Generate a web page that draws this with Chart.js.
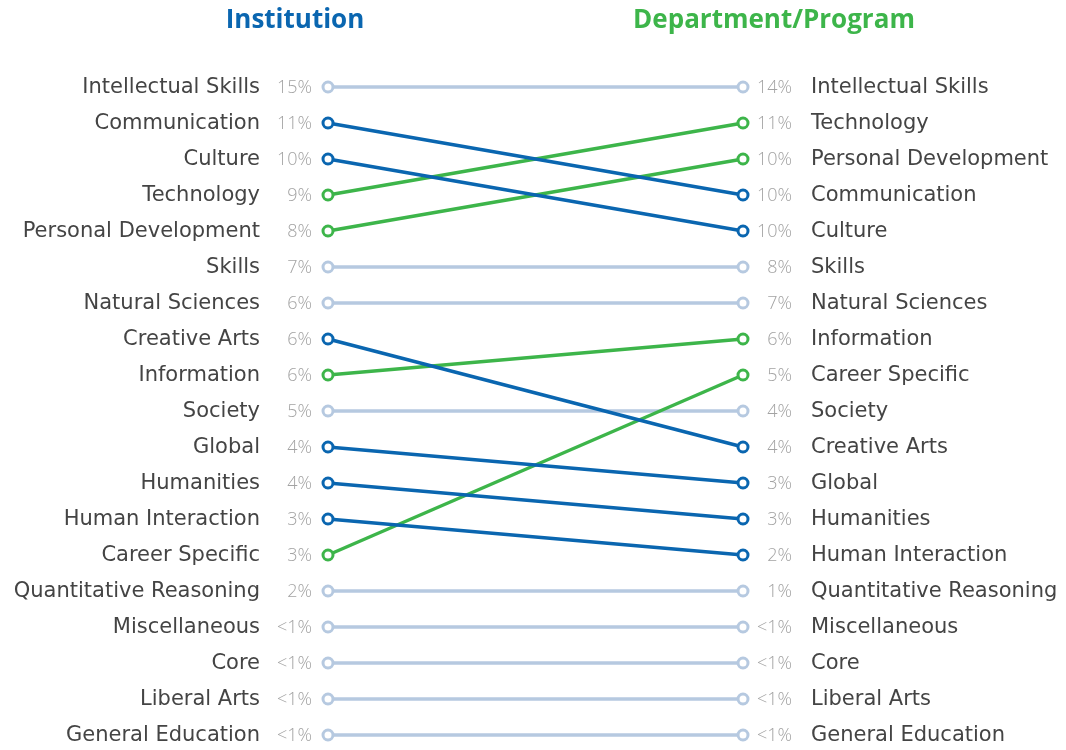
<!DOCTYPE html>
<html>
<head>
<meta charset="utf-8">
<script src="https://cdn.jsdelivr.net/npm/chart.js@4/dist/chart.umd.min.js"></script>
<style>
  html, body { margin: 0; padding: 0; background: #fff; }
  #wrap { width: 1066px; height: 750px; position: relative; }
</style>
</head>
<body>
<div id="wrap"><canvas id="slope"></canvas></div>
<script>
const leftTitle = "Institution";
const rightTitle = "Department/Program";

// ranking at the institution level (top to bottom)
const leftNames = [
  "Intellectual Skills", "Communication", "Culture", "Technology", "Personal Development",
  "Skills", "Natural Sciences", "Creative Arts", "Information", "Society", "Global",
  "Humanities", "Human Interaction", "Career Specific", "Quantitative Reasoning",
  "Miscellaneous", "Core", "Liberal Arts", "General Education"
];
const leftPct = ["15%", "11%", "10%", "9%", "8%", "7%", "6%", "6%", "6%", "5%", "4%",
  "4%", "3%", "3%", "2%", "<1%", "<1%", "<1%", "<1%"];

// ranking at the department/program level (top to bottom)
const rightNames = [
  "Intellectual Skills", "Technology", "Personal Development", "Communication", "Culture",
  "Skills", "Natural Sciences", "Information", "Career Specific", "Society", "Creative Arts",
  "Global", "Humanities", "Human Interaction", "Quantitative Reasoning",
  "Miscellaneous", "Core", "Liberal Arts", "General Education"
];
const rightPct = ["14%", "11%", "10%", "10%", "10%", "8%", "7%", "6%", "5%", "4%", "4%",
  "3%", "3%", "2%", "1%", "<1%", "<1%", "<1%", "<1%"];

const SAME = "#b6c9e0";
const UP = "#3db54a";
const DOWN = "#0a66b0";

const datasets = leftNames.map((name, i) => {
  const j = rightNames.indexOf(name);
  const color = j === i ? SAME : (j < i ? UP : DOWN);
  return {
    label: name,
    data: [{ x: 0, y: i }, { x: 1, y: j }],
    borderColor: color,
    pointBorderColor: color,
    pointBackgroundColor: "#fff",
    borderWidth: 3.5,
    pointRadius: 5,
    pointBorderWidth: 3,
    pointHoverRadius: 5,
    order: color === SAME ? 1 : 0,
    clip: false
  };
});

const nameFont = "21px 'DejaVu Sans'";
const pctFont = "300 18px 'Open Sans'";

const labelPlugin = {
  id: "slopeLabels",
  afterDraw(chart) {
    const { ctx, scales } = chart;
    const xl = scales.x.getPixelForValue(0);
    const xr = scales.x.getPixelForValue(1);
    ctx.save();
    ctx.textBaseline = "middle";

    ctx.font = "bold 26px 'Open Sans'";
    ctx.textAlign = "center";
    ctx.fillStyle = DOWN;
    ctx.fillText(leftTitle, xl - 33, 21);
    ctx.fillStyle = UP;
    ctx.fillText(rightTitle, xr + 31, 21);

    leftNames.forEach((name, i) => {
      const y = scales.y.getPixelForValue(i) + 1;
      ctx.textAlign = "right";
      ctx.font = nameFont;
      ctx.fillStyle = "#444";
      ctx.fillText(name, xl - 68, y);
      ctx.font = pctFont;
      ctx.fillStyle = "#a3a3a3";
      ctx.fillText(leftPct[i], xl - 16, y);
    });
    rightNames.forEach((name, j) => {
      const y = scales.y.getPixelForValue(j) + 1;
      ctx.textAlign = "right";
      ctx.font = pctFont;
      ctx.fillStyle = "#a3a3a3";
      ctx.fillText(rightPct[j], xr + 49, y);
      ctx.textAlign = "left";
      ctx.font = nameFont;
      ctx.fillStyle = "#444";
      ctx.fillText(name, xr + 68, y);
    });
    ctx.restore();
  }
};

new Chart(document.getElementById("slope"), {
  type: "line",
  data: { datasets },
  options: {
    responsive: true,
    maintainAspectRatio: false,
    animation: false,
    layout: { padding: { left: 328, right: 323, top: 87, bottom: 15 } },
    scales: {
      x: { type: "linear", min: 0, max: 1, display: false },
      y: { type: "linear", min: 0, max: 18, reverse: true, display: false }
    },
    plugins: {
      legend: { display: false },
      tooltip: { enabled: false }
    }
  },
  plugins: [labelPlugin]
});
</script>
</body>
</html>
